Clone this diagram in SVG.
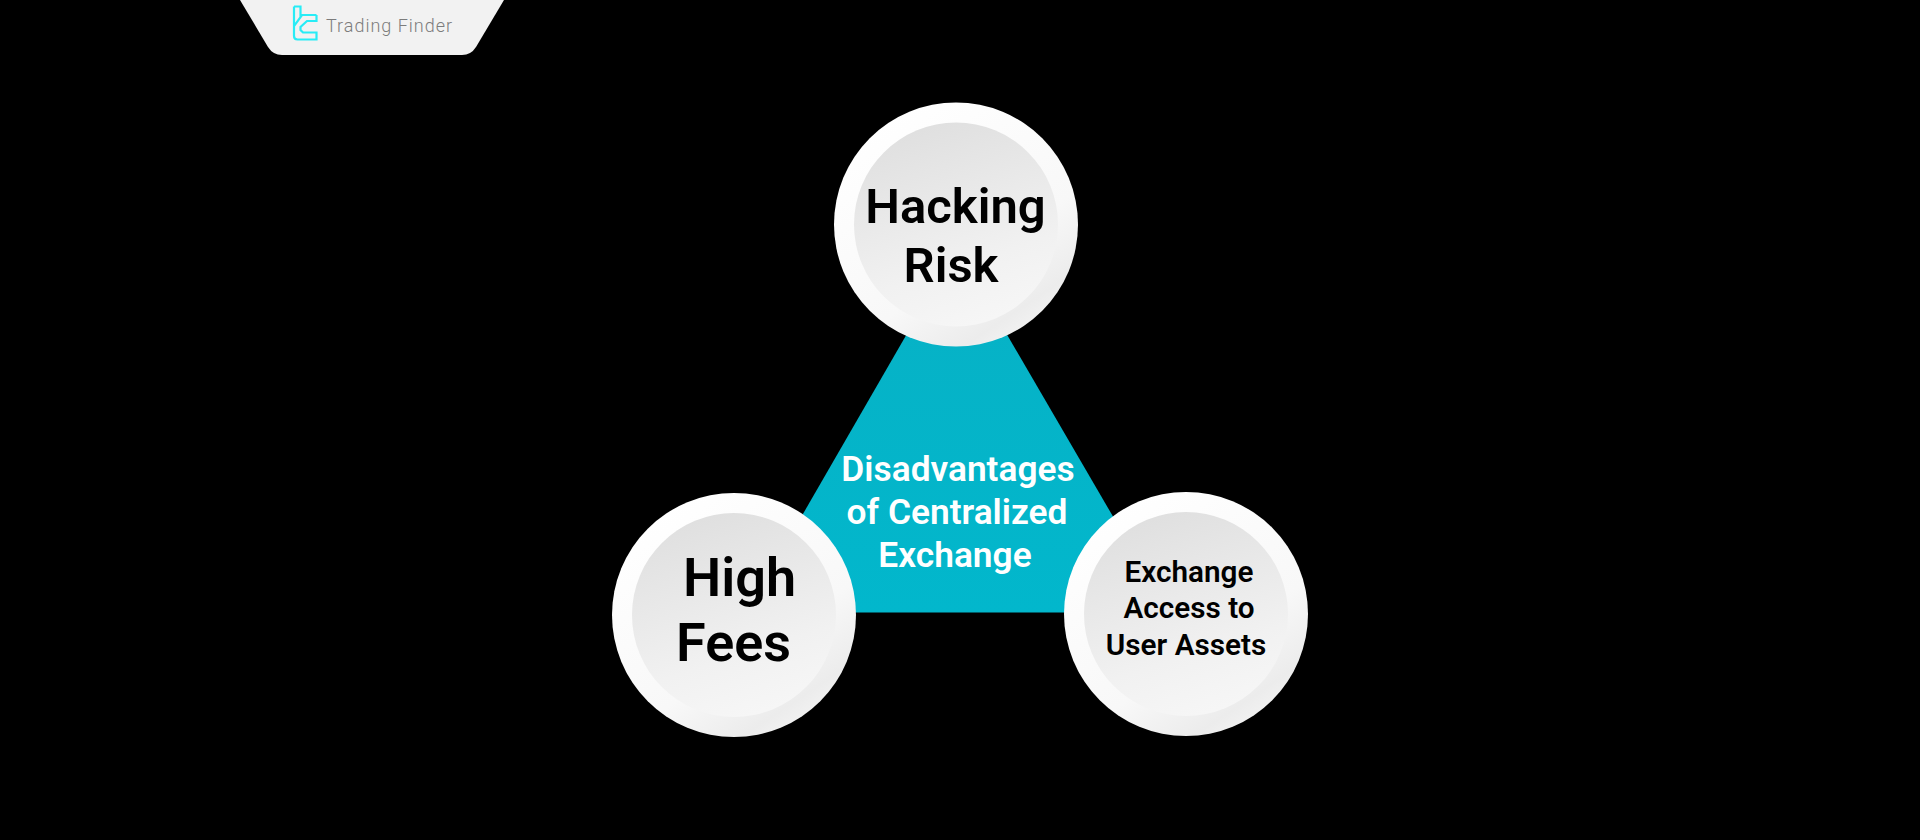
<svg xmlns="http://www.w3.org/2000/svg" width="1920" height="840" viewBox="0 0 1920 840">
<style>
.t{font-family:Roboto,"Liberation Sans",sans-serif;font-weight:600;text-anchor:middle;fill:#000}
.w{fill:#fff}
</style>
<defs>
<linearGradient id="outer" x1="0.2" y1="0.05" x2="0.8" y2="0.95"><stop offset="0" stop-color="#ffffff"/><stop offset="0.65" stop-color="#f8f8f8"/><stop offset="0.9" stop-color="#ececec"/><stop offset="1" stop-color="#f3f3f3"/></linearGradient>
<linearGradient id="inner" x1="0.35" y1="0.03" x2="0.65" y2="0.97"><stop offset="0" stop-color="#e0e0e0"/><stop offset="0.7" stop-color="#f1f1f1"/><stop offset="1" stop-color="#f6f6f6"/></linearGradient>
<linearGradient id="tri" x1="0" y1="1" x2="0" y2="0"><stop offset="0" stop-color="#02b7cc"/><stop offset="1" stop-color="#07b1c5"/></linearGradient>
<circle id="disc" r="122" fill="url(#outer)"/>
<circle id="face" r="102" fill="url(#inner)"/>
</defs>
<rect width="1920" height="840" fill="#000"/>
<g id="logo-tab">
<path d="M240 0H504L476 47Q471 55 462 55H282Q273 55 268 47Z" fill="#f2f2f2"/>
<path d="M294 6.500H300.500V17M294 6.500V26M316.500 15H302L294 26V36Q294 39.500 297.500 39.500H316.500V32.500H303L300.500 30V27L307 21H316.500V15" fill="none" stroke="#28ecf6" stroke-width="2.200"/>
<text x="326" y="32" font-family="Roboto,'Liberation Sans',sans-serif" font-size="18" font-weight="300" fill="#7c7c7c" textLength="126">Trading Finder</text>
</g>
<g id="center">
<path d="M956.500 248L1169 612.600H746Z" fill="url(#tri)"/>
<text class="t w" font-size="35.300"><tspan x="958" y="480.500">Disadvantages</tspan><tspan x="957" y="523.500">of Centralized</tspan><tspan x="955" y="567">Exchange</tspan></text>
</g>
<g id="node-hacking-risk" transform="translate(956 224.500)">
<use href="#disc"/><use href="#face"/>
<text class="t" font-size="49"><tspan x="-0.500" y="-1.500">Hacking</tspan><tspan x="-5" y="57">Risk</tspan></text>
</g>
<g id="node-high-fees" transform="translate(734 615)">
<use href="#disc"/><use href="#face"/>
<text class="t" font-size="54"><tspan x="5.500" y="-19.500">High</tspan><tspan x="-0.500" y="46">Fees</tspan></text>
</g>
<g id="node-exchange-access" transform="translate(1186 614)">
<use href="#disc"/><use href="#face"/>
<text class="t" font-size="29.700"><tspan x="3" y="-32">Exchange</tspan><tspan x="3" y="4">Access to</tspan><tspan x="0" y="40.500">User Assets</tspan></text>
</g>
</svg>
